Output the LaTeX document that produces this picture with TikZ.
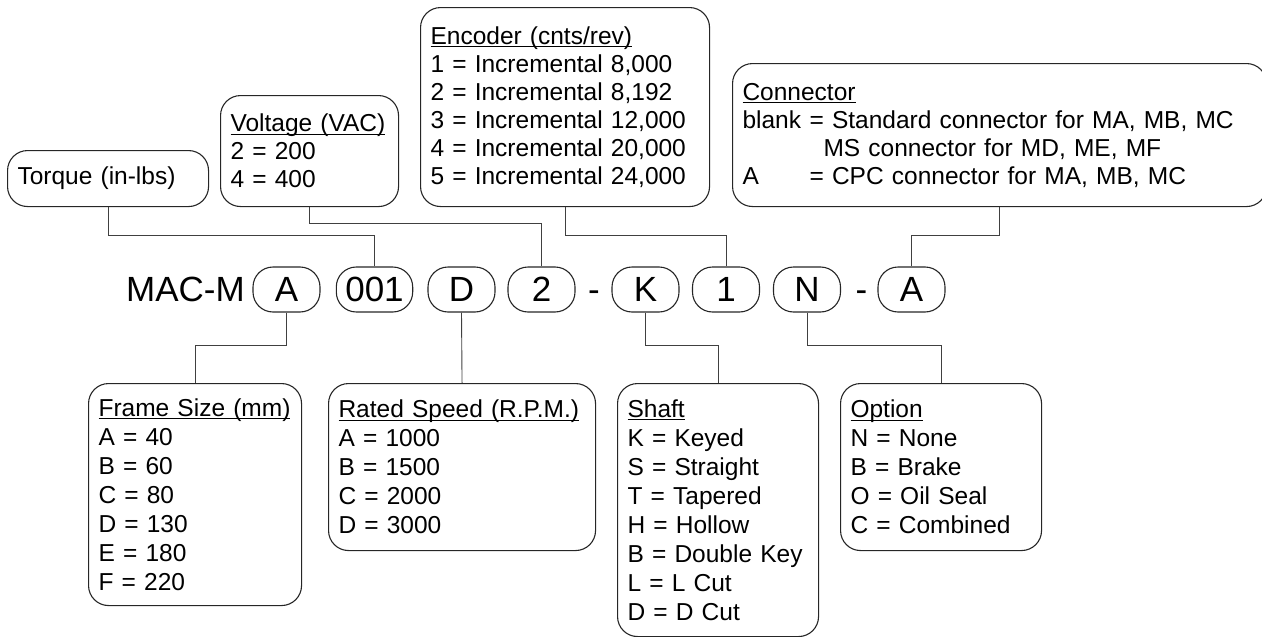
\documentclass[tikz,border=0pt]{standalone}
\usepackage{fontspec}
\setmainfont{Liberation Sans}

% underlined heading of a legend box
\newcommand{\hd}[1]{\setbox0=\hbox{#1}\rlap{\rule[-2.8pt]{\wd0}{1.1pt}}\box0}

\tikzset{
  legend/.style={draw=black!85, line width=1.1pt, rounded corners=20pt, anchor=north west,
    align=left, inner xsep=10pt, inner ysep=0pt, font=\fontsize{24.5}{28}\selectfont},
  legendlow/.style={legend, font=\fontsize{24.5}{29}\selectfont},
  pill/.style={draw=black!85, line width=1.1pt, rounded corners=20pt, minimum width=67pt,
    minimum height=45pt, inner xsep=9pt, text height=24.5pt, text depth=0pt,
    font=\fontsize{35}{40}\selectfont},
  codetext/.style={inner sep=0pt, text height=24.5pt, text depth=0pt,
    font=\fontsize{35}{40}\selectfont},
  link/.style={draw=black!75, line width=0.9pt}
}

\begin{document}
\begin{tikzpicture}[x=1pt, y=-1pt]
\useasboundingbox (0,0) rectangle (1262,637);

% model code
\node[codetext] (mac) at (185.5,289.5) {MAC-M};
\node[pill] (pframe) at (286.5,289.5) {A};
\node[pill] (ptorque) at (374.5,289.5) {001};
\node[pill] (pspeed) at (461.5,289.5) {D};
\node[pill] (pvolt) at (541.5,289.5) {2};
\node[codetext] (dash1) at (594,289.5) {-};
\node[pill] (pshaft) at (645.5,289.5) {K};
\node[pill] (penc) at (726,289.5) {1};
\node[pill] (popt) at (807,289.5) {N};
\node[codetext] (dash2) at (861.5,289.5) {-};
\node[pill] (pconn) at (911.5,289.5) {A};

% legends above
\node[legend, text width=181pt, minimum height=56pt] (torque) at (7,150) {Torque (in-lbs)};
\node[legend, text width=158pt, minimum height=111pt] (volt) at (220,95)
  {\hd{Voltage (VAC)}\\ 2 = 200\\ 4 = 400};
\node[legend, text width=269pt, minimum height=199pt] (enc) at (420,7)
  {\hd{Encoder (cnts/rev)}\\ 1 = Incremental 8,000\\ 2 = Incremental 8,192\\
   3 = Incremental 12,000\\ 4 = Incremental 20,000\\ 5 = Incremental 24,000};
\node[legend, text width=514pt, minimum height=143pt] (conn) at (732,63)
  {\hd{Connector}\\
   \makebox[67pt][l]{blank}= Standard connector for MA, MB, MC\\
   \hspace*{81pt}MS connector for MD, ME, MF\\
   \makebox[67pt][l]{A}= CPC connector for MA, MB, MC};

% legends below
\node[legendlow, text width=193pt, minimum height=222pt] (frame) at (88,383)
  {\hd{Frame Size (mm)}\\ A = 40\\ B = 60\\ C = 80\\ D = 130\\ E = 180\\ F = 220};
\node[legendlow, text width=247pt, minimum height=167pt] (speed) at (328,383)
  {\hd{Rated Speed (R.P.M.)}\\ A = 1000\\ B = 1500\\ C = 2000\\ D = 3000};
\node[legendlow, text width=181pt, minimum height=253pt] (shaft) at (617,383)
  {\hd{Shaft}\\ K = Keyed\\ S = Straight\\ T = Tapered\\ H = Hollow\\
   B = Double Key\\ L = L Cut\\ D = D Cut};
\node[legendlow, text width=181pt, minimum height=167pt] (option) at (840,383)
  {\hd{Option}\\ N = None\\ B = Brake\\ O = Oil Seal\\ C = Combined};

% links
\draw[link] (torque.south) -- ++(0,28) -| (ptorque.north);
\draw[link] (volt.south) -- ++(0,16) -| (pvolt.north);
\draw[link] (enc.south) -- ++(0,28) -| (penc.north);
\draw[link] (conn.south) -- ++(0,28) -| (pconn.north);
\draw[link] (pframe.south) -- ++(0,33) -| (frame.north);
\draw[link] (pspeed.south) -- (speed.north);
\draw[link] (pshaft.south) -- ++(0,33) -| (shaft.north);
\draw[link] (popt.south) -- ++(0,33) -| (option.north);
\end{tikzpicture}
\end{document}
